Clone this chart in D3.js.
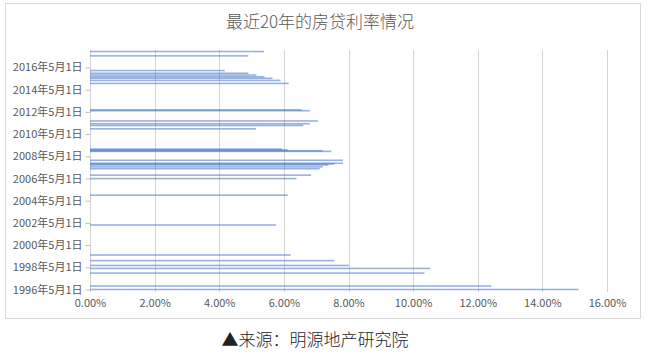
<!DOCTYPE html>
<html><head><meta charset="utf-8">
<script src="https://cdn.jsdelivr.net/npm/d3@7"></script>
<style>
html,body{margin:0;padding:0;background:#fff;}
svg{display:block;}
text{font-family:"Noto Sans CJK SC","Noto Sans",sans-serif;}
</style></head>
<body>
<svg id="c" width="657" height="358"></svg>
<script>
// data: rate change dates and 5y+ mortgage benchmark rates (%)
const dates = ["1996-05-01","1996-08-23","1997-10-23","1998-03-25","1998-07-01","1998-12-07","1999-06-10",
  "2002-02-21","2004-10-29","2006-04-28","2006-08-19","2007-03-18","2007-05-19","2007-07-21","2007-08-22",
  "2007-09-15","2007-12-21","2008-10-09","2008-10-30","2008-11-27","2008-12-23","2010-10-20","2011-02-09",
  "2011-04-06","2011-07-07","2012-06-08","2012-07-06","2014-11-22","2015-03-01","2015-05-11","2015-06-28",
  "2015-08-26","2015-10-24","2016-01-20","2017-05-18","2017-10-08"];
const rates = [15.12,12.42,10.35,10.53,8.01,7.56,6.21,
  5.76,6.12,6.39,6.84,7.11,7.20,7.38,7.56,
  7.83,7.83,7.47,7.20,6.12,5.94,5.14,6.60,
  6.80,7.05,6.80,6.55,6.15,5.90,5.65,5.40,
  5.15,4.90,4.17,4.90,5.39];
const yTickDates = ["1996-05-01","1998-05-01","2000-05-01","2002-05-01","2004-05-01","2006-05-01",
  "2008-05-01","2010-05-01","2012-05-01","2014-05-01","2016-05-01"];
const xTicks = [0,0.02,0.04,0.06,0.08,0.10,0.12,0.14,0.16];
const title = "最近20年的房贷利率情况";
const source = "▲来源：明源地产研究院";

const parse = d3.timeParse("%Y-%m-%d");
const data = dates.map((d,i)=>({date:parse(d), rate:rates[i]/100}));

const svg = d3.select("#c");
// chart border
svg.append("rect").attr("x",5.5).attr("y",3.5).attr("width",635).attr("height",315)
  .attr("fill","#fff").attr("stroke","#d9d9d9").attr("stroke-width",1);

const x = d3.scaleLinear().domain([0,0.16]).range([90,607]);
const y = d3.scaleTime().domain(d3.extent(data,d=>d.date)).range([289.5,51.5]);
const plotTop = 50, plotBottom = 292;

// gridlines
svg.append("g").selectAll("line").data(xTicks).join("line")
  .attr("x1",d=>Math.round(x(d))+0.5).attr("x2",d=>Math.round(x(d))+0.5)
  .attr("y1",plotTop).attr("y2",plotBottom)
  .attr("stroke","#d4d4d4").attr("stroke-width",1);

// x axis labels
const xAxis = d3.axisBottom(x).tickValues(xTicks).tickFormat(d3.format(".2%")).tickSize(0).tickPadding(0);
const gx = svg.append("g").attr("transform",`translate(0,${plotBottom+7})`).call(xAxis);
gx.select(".domain").remove();
gx.selectAll("text").attr("fill","#595959").attr("font-size","11px").attr("dy","0.71em");

// y axis
const yAxis = d3.axisLeft(y).tickValues(yTickDates.map(parse))
  .tickFormat(d=>`${d.getFullYear()}年${d.getMonth()+1}月${d.getDate()}日`).tickSize(5).tickPadding(3);
const gy = svg.append("g").attr("transform","translate(90.5,0)").call(yAxis);
gy.select(".domain").remove();
gy.selectAll("line").attr("stroke","#bfbfbf");
gy.selectAll("text").attr("fill","#595959").attr("font-size","11px");

// bars
svg.append("g").selectAll("rect").data(data).join("rect")
  .attr("x",x(0)).attr("y",d=>y(d.date)-0.8).attr("height",1.6)
  .attr("width",d=>x(d.rate)-x(0))
  .attr("fill","#4472c4").attr("fill-opacity",0.55);

// title
svg.append("text").attr("x",320).attr("y",28).attr("text-anchor","middle")
  .attr("font-size","17px").attr("font-weight",300).attr("fill","#595959").text(title);
// source
svg.append("text").attr("x",315).attr("y",346).attr("text-anchor","middle")
  .attr("font-size","17px").attr("font-weight",300).attr("fill","#222").text(source);
</script>
</body></html>
